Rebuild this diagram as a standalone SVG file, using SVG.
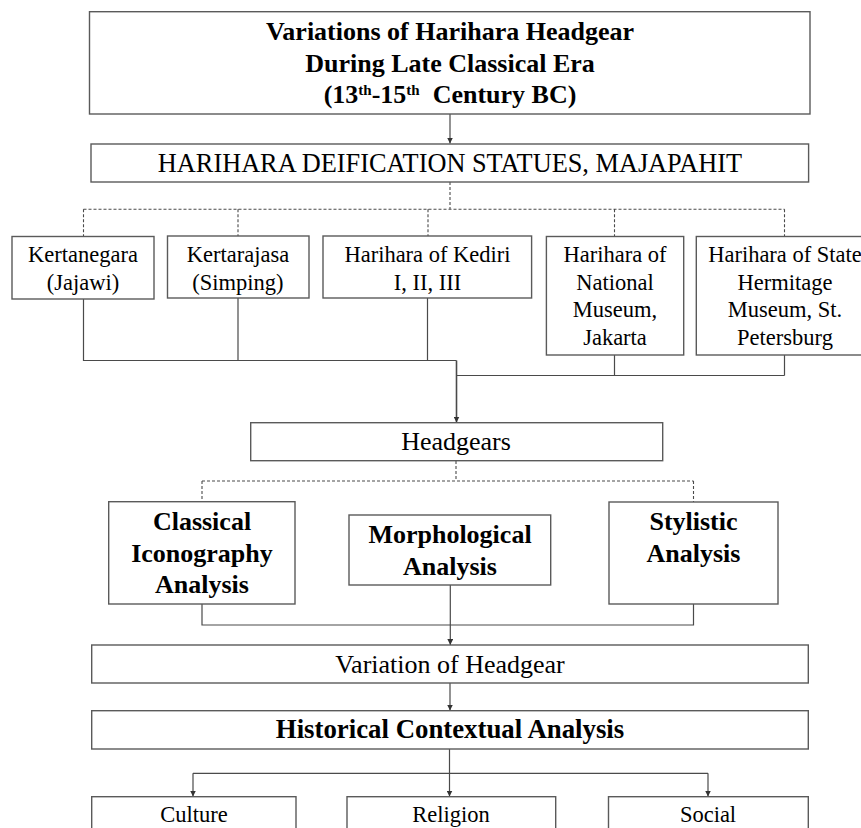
<svg xmlns="http://www.w3.org/2000/svg" width="861" height="828" viewBox="0 0 861 828">
<defs>
<style>
.box{fill:#fff;stroke:#5a5a5a;stroke-width:1.4}
.t{font-family:"Liberation Serif","Times New Roman",serif;fill:#000;text-anchor:middle}
.r{font-size:22.5px}
.rl{font-size:26px}
.b{font-weight:bold;font-size:26px}
.ln{fill:none;stroke:#4a4a4a;stroke-width:1.2}
.ds{fill:none;stroke:#4a4a4a;stroke-width:1.1;stroke-dasharray:3,2}
</style>
<marker id="ah" viewBox="0 0 8 8" refX="8" refY="4" markerWidth="6" markerHeight="6" orient="auto" markerUnits="userSpaceOnUse">
<path d="M0,0 L8,4 L0,8 z" fill="#333"/>
</marker>
</defs>
<rect width="861" height="828" fill="#fff"/>
<g id="connectors">
<line class="ln" x1="450" y1="114" x2="450" y2="143.5" marker-end="url(#ah)"/>
<path class="ds" d="M450,182 V209.3 M83.5,209.3 H784.5 M83.5,209.3 V236.5 M238,209.3 V236 M428,209.3 V236 M614.5,209.3 V236.5 M784.5,209.3 V236.5"/>
<path class="ln" d="M83.5,299 V360.5 H456.5 M238,298 V360.5 M427.5,298 V360.5 M614.5,355 V375.5 M784.5,355 V375.5 M456.5,375.5 H784.5"/>
<line class="ln" x1="456.5" y1="360.5" x2="456.5" y2="422.5" marker-end="url(#ah)" style="stroke-width:1.6"/>
<path class="ds" d="M456,461 V481 M202,481 H693.5 M202,481 V501.7 M693.5,481 V502"/>
<path class="ln" d="M202,604 V625 H693.5 V604"/>
<line class="ln" x1="450.3" y1="585" x2="450.3" y2="645" marker-end="url(#ah)"/>
<line class="ln" x1="450" y1="683" x2="450" y2="710.5" marker-end="url(#ah)"/>
<path class="ln" d="M449.5,749 V773.3 M193,773.3 H708"/>
<line class="ln" x1="193" y1="773.3" x2="193" y2="796.5" marker-end="url(#ah)"/>
<line class="ln" x1="449.5" y1="773.3" x2="449.5" y2="796.5" marker-end="url(#ah)"/>
<line class="ln" x1="708" y1="773.3" x2="708" y2="796.5" marker-end="url(#ah)"/>
</g>
<g id="title">
<rect class="box" x="89.5" y="11.7" width="720.5" height="102.3"/>
<text class="t b" x="450" y="40">Variations of Harihara Headgear</text>
<text class="t b" x="450" y="72">During Late Classical Era</text>
<text class="t b" x="450" y="103" xml:space="preserve">(13<tspan font-size="15" dy="-8">th</tspan><tspan dy="8">-15</tspan><tspan font-size="15" dy="-8">th</tspan><tspan dy="8">  Century BC)</tspan></text>
</g>
<g id="deification">
<rect class="box" x="91" y="144" width="717.6" height="38"/>
<text class="t" x="450" y="172" style="font-size:26.3px">HARIHARA DEIFICATION STATUES, MAJAPAHIT</text>
</g>
<g id="kertanegara">
<rect class="box" x="12" y="236.5" width="142" height="62.5"/>
<text class="t r" x="83" y="262">Kertanegara</text>
<text class="t r" x="83" y="290">(Jajawi)</text>
</g>
<g id="kertarajasa">
<rect class="box" x="167.5" y="236" width="141.5" height="62"/>
<text class="t r" x="238" y="262">Kertarajasa</text>
<text class="t r" x="238" y="290">(Simping)</text>
</g>
<g id="kediri">
<rect class="box" x="323" y="236" width="208.6" height="62"/>
<text class="t r" x="427.5" y="262">Harihara of Kediri</text>
<text class="t r" x="427.5" y="290">I, II, III</text>
</g>
<g id="national">
<rect class="box" x="546.4" y="236.5" width="137.3" height="118.5"/>
<text class="t r" x="615" y="262">Harihara of</text>
<text class="t r" x="615" y="290">National</text>
<text class="t r" x="615" y="317">Museum,</text>
<text class="t r" x="615" y="345">Jakarta</text>
</g>
<g id="hermitage">
<rect class="box" x="696.3" y="236.5" width="176" height="118.5"/>
<text class="t r" x="785" y="262">Harihara of State</text>
<text class="t r" x="785" y="290">Hermitage</text>
<text class="t r" x="785" y="317">Museum, St.</text>
<text class="t r" x="785" y="345">Petersburg</text>
</g>
<g id="headgears">
<rect class="box" x="250.7" y="422.7" width="412" height="38"/>
<text class="t rl" x="456" y="450">Headgears</text>
</g>
<g id="classical">
<rect class="box" x="108.7" y="501.7" width="186.3" height="102.3"/>
<text class="t b" x="202" y="530">Classical</text>
<text class="t b" x="202" y="562">Iconography</text>
<text class="t b" x="202" y="593">Analysis</text>
</g>
<g id="morphological">
<rect class="box" x="349" y="515" width="201.7" height="70"/>
<text class="t b" x="450" y="543">Morphological</text>
<text class="t b" x="450" y="575">Analysis</text>
</g>
<g id="stylistic">
<rect class="box" x="609" y="502" width="169" height="102"/>
<text class="t b" x="693.5" y="530">Stylistic</text>
<text class="t b" x="693.5" y="562">Analysis</text>
</g>
<g id="variation">
<rect class="box" x="91.7" y="645" width="716.6" height="38"/>
<text class="t rl" x="450" y="673">Variation of Headgear</text>
</g>
<g id="historical">
<rect class="box" x="91.7" y="710.7" width="716.6" height="38.3"/>
<text class="t b" x="450" y="738" style="font-size:26.8px">Historical Contextual Analysis</text>
</g>
<g id="culture">
<rect class="box" x="91.7" y="796.7" width="204.3" height="50"/>
<text class="t r" x="194" y="822">Culture</text>
</g>
<g id="religion">
<rect class="box" x="347" y="796.7" width="208.7" height="50"/>
<text class="t r" x="451" y="822">Religion</text>
</g>
<g id="social">
<rect class="box" x="608.5" y="796.7" width="199.8" height="50"/>
<text class="t r" x="708" y="822">Social</text>
</g>
</svg>
